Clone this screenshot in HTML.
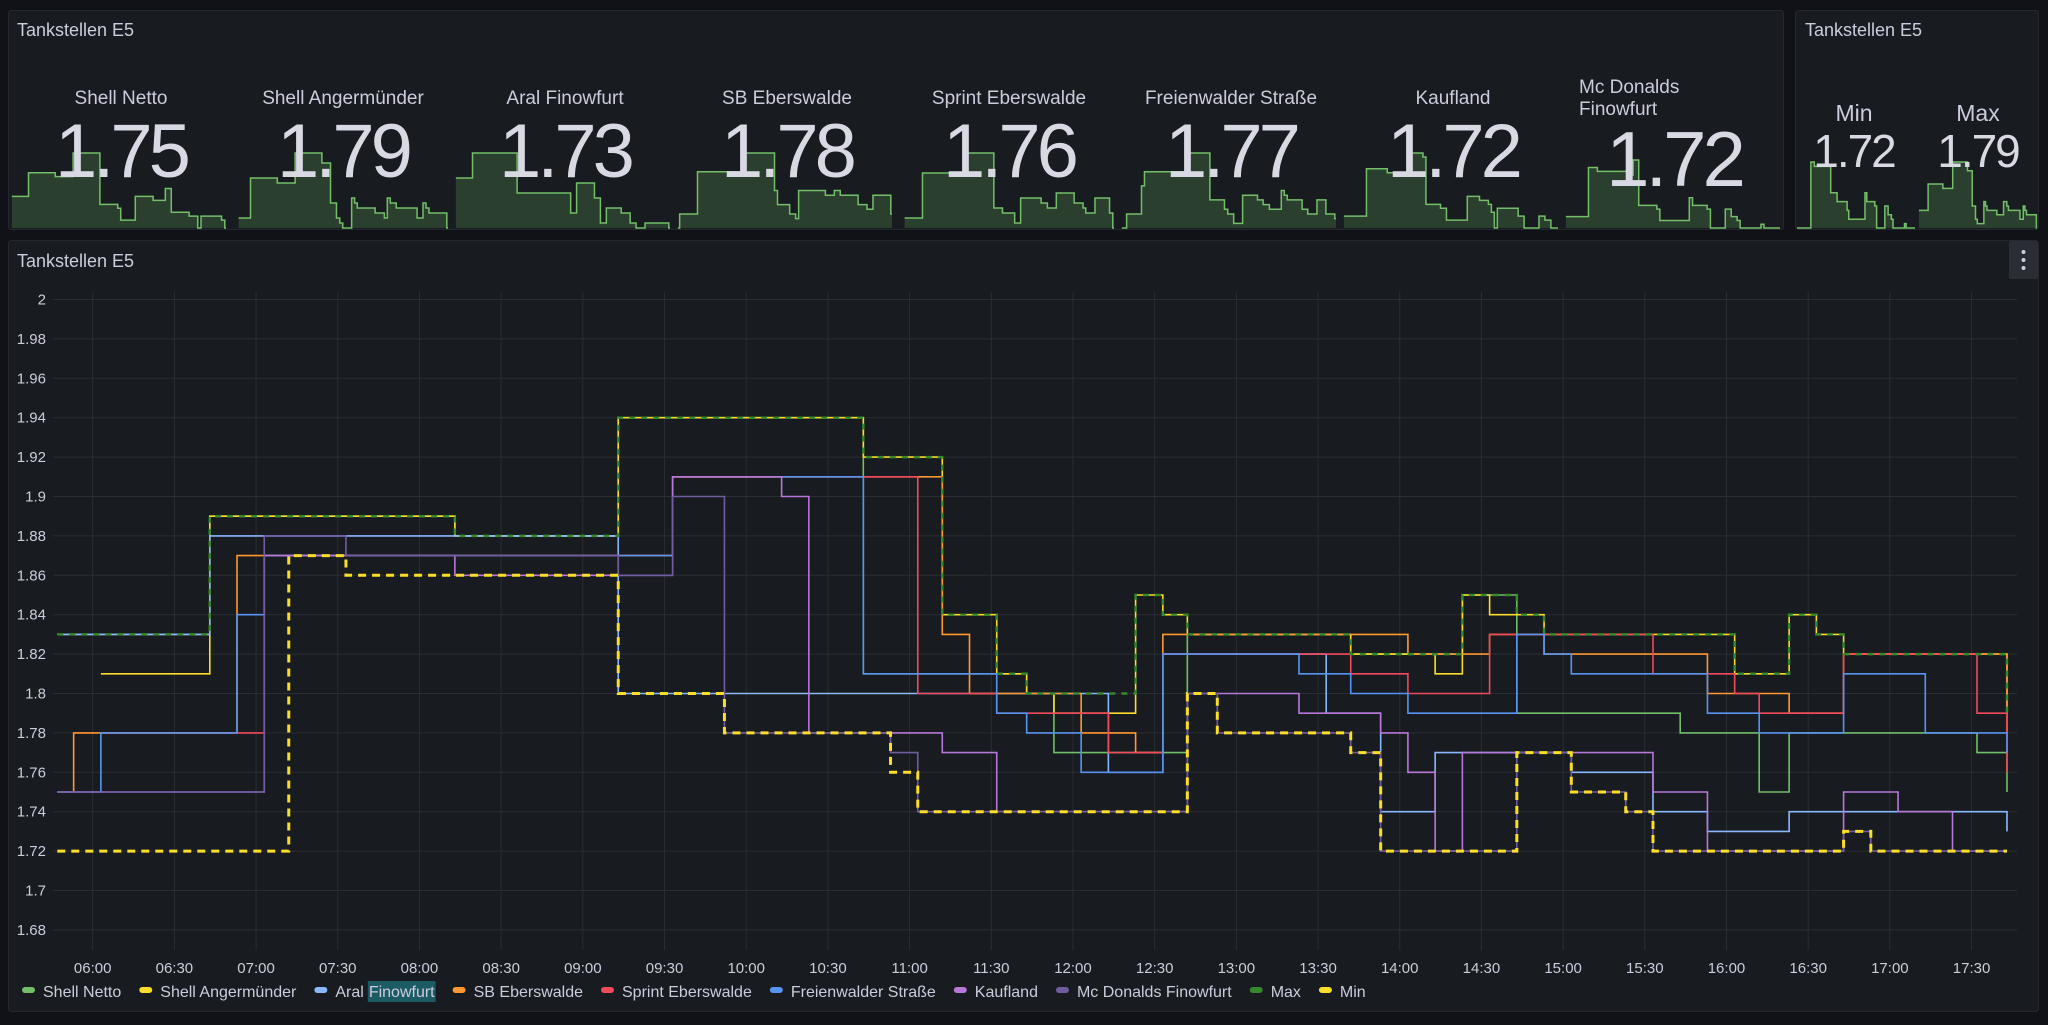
<!DOCTYPE html>
<html><head><meta charset="utf-8"><style>
body{margin:0;width:2048px;height:1025px;background:#111217;overflow:hidden;font-family:"Liberation Sans",sans-serif;}
svg{position:absolute;left:0;top:0}
</style></head><body>
<svg id="s" width="2048" height="1025" xmlns="http://www.w3.org/2000/svg"></svg>
<script>
const netto=[["05:47",1.83],["06:43",1.89],["08:13",1.88],["09:13",1.94],["10:43",1.81],["11:43",1.80],["11:53",1.77],["12:42",1.83],["13:42",1.82],["14:23",1.85],["14:43",1.79],["15:43",1.78],["16:12",1.75],["16:23",1.78],["17:32",1.77],["17:43",1.75]];
const anger=[["06:03",1.81],["06:43",1.89],["08:13",1.88],["09:13",1.94],["10:43",1.92],["11:12",1.84],["11:32",1.81],["11:43",1.80],["11:53",1.79],["12:23",1.85],["12:33",1.84],["12:42",1.83],["13:42",1.82],["14:13",1.81],["14:23",1.85],["14:33",1.84],["14:53",1.83],["16:03",1.81],["16:23",1.84],["16:33",1.83],["16:43",1.82],["17:43",1.79]];
const aral=[["05:47",1.83],["06:43",1.88],["09:13",1.80],["12:13",1.76],["12:33",1.82],["13:33",1.79],["13:53",1.74],["14:13",1.77],["15:03",1.76],["15:33",1.74],["15:53",1.73],["16:23",1.74],["17:43",1.73]];
const sb=[["05:47",1.75],["05:53",1.78],["06:53",1.87],["09:33",1.91],["11:12",1.83],["11:22",1.80],["12:03",1.78],["12:23",1.77],["12:33",1.83],["14:03",1.82],["14:33",1.83],["14:53",1.82],["15:53",1.80],["16:23",1.79],["16:43",1.82],["17:43",1.78]];
const sprint=[["06:03",1.78],["07:03",1.87],["09:33",1.91],["11:03",1.80],["11:32",1.79],["12:13",1.77],["12:33",1.82],["13:42",1.81],["14:03",1.80],["14:33",1.83],["15:33",1.81],["16:03",1.80],["16:12",1.79],["16:43",1.82],["17:32",1.79],["17:43",1.76]];
const frei=[["05:47",1.75],["06:03",1.78],["06:53",1.84],["07:03",1.87],["09:33",1.91],["10:43",1.81],["11:32",1.79],["11:43",1.78],["12:03",1.76],["12:33",1.82],["13:23",1.81],["13:42",1.80],["14:03",1.79],["14:43",1.83],["14:53",1.82],["15:03",1.81],["15:53",1.79],["16:12",1.78],["16:43",1.81],["17:13",1.78],["17:43",1.77]];
const kauf=[["05:47",1.75],["07:03",1.87],["08:13",1.86],["09:33",1.91],["10:13",1.90],["10:23",1.78],["11:12",1.77],["11:32",1.74],["12:42",1.80],["13:23",1.79],["13:53",1.78],["14:03",1.76],["14:13",1.72],["14:23",1.77],["15:33",1.75],["15:53",1.72],["16:43",1.75],["17:03",1.74],["17:23",1.72]];
const mcd=[["05:47",1.75],["07:03",1.88],["07:33",1.87],["09:13",1.86],["09:33",1.90],["09:52",1.78],["10:53",1.77],["11:03",1.74],["12:42",1.80],["12:53",1.78],["13:42",1.77],["13:53",1.72],["14:43",1.77],["15:03",1.75],["15:23",1.74],["15:33",1.72],["16:43",1.73],["16:53",1.72]];
const maxS=[["05:47",1.83],["06:43",1.89],["08:13",1.88],["09:13",1.94],["10:43",1.92],["11:12",1.84],["11:32",1.81],["11:43",1.80],["12:23",1.85],["12:33",1.84],["12:42",1.83],["13:42",1.82],["14:23",1.85],["14:43",1.84],["14:53",1.83],["16:03",1.81],["16:23",1.84],["16:33",1.83],["16:43",1.82],["17:43",1.79]];
const minS=[["05:47",1.72],["07:12",1.87],["07:33",1.86],["09:13",1.80],["09:52",1.78],["10:53",1.76],["11:03",1.74],["12:42",1.80],["12:53",1.78],["13:42",1.77],["13:53",1.72],["14:43",1.77],["15:03",1.75],["15:23",1.74],["15:33",1.72],["16:43",1.73],["16:53",1.72]];
const yTicks=[2,1.98,1.96,1.94,1.92,1.9,1.88,1.86,1.84,1.82,1.8,1.78,1.76,1.74,1.72,1.7,1.68];
const xTicks=["06:00","06:30","07:00","07:30","08:00","08:30","09:00","09:30","10:00","10:30","11:00","11:30","12:00","12:30","13:00","13:30","14:00","14:30","15:00","15:30","16:00","16:30","17:00","17:30"];
const names=["Shell Netto","Shell Angermünder","Aral Finowfurt","SB Eberswalde","Sprint Eberswalde","Freienwalder Straße","Kaufland","Mc Donalds Finowfurt","Max","Min"];
const colors=["#73BF69","#FADE2A","#8AB8FF","#FF9830","#F2495C","#5794F2","#B877D9","#705DA0","#37872D","#FADE2A"];
const series=[netto,anger,aral,sb,sprint,frei,kauf,mcd,maxS,minS];

const NS="http://www.w3.org/2000/svg";const S=document.getElementById('s');
function el(t,a,p){const e=document.createElementNS(NS,t);for(const k in a)e.setAttribute(k,a[k]);(p||S).appendChild(e);return e;}
const toM=s=>{const[h,m]=s.split(':');return +h*60+ +m;};
const T0=347.5,T1=1067;
const X=m=>92.7+(m-360)*2.723;
const Y=v=>299.5+(2-v)/0.02*39.4;
const lastV=s=>s[s.length-1][1];

let p=el('rect',{x:8.5,y:10.5,width:1775,height:219,rx:3,fill:'#181b1f',stroke:'#25282e'});

p=el('rect',{x:1795.5,y:10.5,width:243,height:219,rx:3,fill:'#181b1f',stroke:'#25282e'});

p=el('rect',{x:8.5,y:240.5,width:2030,height:771,rx:3,fill:'#181b1f',stroke:'#25282e'});

function title(x,y,t,n){const e=el('text',{x:x,y:y,fill:'#ccccdc','font-size':18});e.textContent=t;}
title(17,36,"Tankstellen E5",'stat-panel-title');title(1805,36,"Tankstellen E5",'minmax-panel-title');title(17,267,"Tankstellen E5",'chart-title');
let mb=el('rect',{x:2009,y:241,width:29,height:38,rx:2,fill:'#2a2d33'});

for(let i=0;i<3;i++){const c=el('circle',{cx:2023.5,cy:252+i*8,r:2,fill:'#ccccdc'});}

function spark(s,x0,x1,yb,h,idx){
  const vs=s.map(d=>d[1]);const lo=Math.min(...vs),hi=Math.max(...vs);
  const sx=m=>x0+(m-T0)/(T1-T0)*(x1-x0);const sy=v=>yb-((v-lo)/(hi-lo||1))*h;
  let d='';s.forEach((q,i)=>{const xx=sx(toM(q[0])),yy=sy(q[1]);d+=(i?`H${xx}V${yy}`:`M${xx} ${yy}`);});
  d+=`H${x1}`;
  const a=el('path',{d:d+`V${yb}H${sx(toM(s[0][0]))}Z`,fill:'rgba(115,191,105,0.22)'});
  
  const l=el('path',{d:d,fill:'none',stroke:'#73BF69','stroke-width':1.5});
  
}
const fmt=v=>v.toFixed(2);
for(let i=0;i<8;i++){
  const bx=10+i*222,cx=bx+111;
  spark(series[i],bx+2,bx+216,228,[75,75,75,75,75,75,75,68][i],i);
  if(i<7){const t=el('text',{x:cx,y:104,fill:'#ccccdc','font-size':19,'text-anchor':'middle'});t.textContent=names[i];
    const v=el('text',{x:cx,y:177,fill:'#d8d9e3','font-size':76,'letter-spacing':-4,'text-anchor':'middle'});v.textContent=fmt(lastV(series[i]));}
  else{const t=el('text',{x:1579,y:93,fill:'#ccccdc','font-size':19});t.textContent="Mc Donalds";
    const t2=el('text',{x:1579,y:115,fill:'#ccccdc','font-size':19});t2.textContent="Finowfurt";
    const v=el('text',{x:1674,y:186,fill:'#d8d9e3','font-size':78,'letter-spacing':-4,'text-anchor':'middle'});v.textContent=fmt(lastV(series[i]));}
}
[[9,"Min",1797,1915,1854],[8,"Max",1919,2037,1978]].forEach(([i,n,x0,x1,cx])=>{
  spark(series[i],x0,x1,228,66,i);
  const t=el('text',{x:cx,y:121,fill:'#ccccdc','font-size':23,'text-anchor':'middle'});t.textContent=n;
  const v=el('text',{x:cx,y:167,fill:'#d8d9e3','font-size':46,'letter-spacing':-2,'text-anchor':'middle'});v.textContent=fmt(lastV(series[i]));
});

const PL=53,PR=2017;
yTicks.forEach(v=>{const g=el('line',{x1:PL,x2:PR,y1:Y(v),y2:Y(v),stroke:'#2a2d33'});
  const t=el('text',{x:46,y:Y(v)+5,fill:'#ccccdc','font-size':15,'text-anchor':'end'});t.textContent=String(v);});
xTicks.forEach(s=>{const x=X(toM(s));const g=el('line',{x1:x,x2:x,y1:292,y2:950,stroke:'#2a2d33'});
  const t=el('text',{x:x,y:973,fill:'#ccccdc','font-size':15,'text-anchor':'middle'});t.textContent=s;});

series.forEach((s,i)=>{
  let d='';s.forEach((q,j)=>{const xx=X(toM(q[0])),yy=Y(q[1]);d+=(j?`H${xx}V${yy}`:`M${xx} ${yy}`);});d+=`H${X(T1-4)}`;
  const a={d:d,fill:'none',stroke:colors[i],'stroke-width':1.6};
  if(i===8){a['stroke-dasharray']='6 6';a['stroke-width']=2.5;}
  if(i===9){a['stroke-dasharray']='8 6';a['stroke-width']=3;}
  const l=el('path',a);
});

let lx=22;
names.forEach((n,i)=>{
  const g=el('g',{});
  el('rect',{x:lx,y:987,width:13,height:6,rx:3,fill:colors[i]},g);
  if(i===2){const t=el('text',{x:lx+21,y:997,fill:'#ccccdc','font-size':16},g);t.textContent="Aral";
    const w=t.getComputedTextLength();
    const t2=el('text',{x:lx+21+w+5,y:997,fill:'#ccccdc','font-size':16},g);t2.textContent="Finowfurt";
    const w2=t2.getComputedTextLength();
    const hb=el('rect',{x:lx+21+w+4,y:981,width:w2+2,height:21,fill:'#1c5b63'});g.insertBefore(hb,t2);
    lx+=21+w+5+w2+18;}
  else{const t=el('text',{x:lx+21,y:997,fill:'#ccccdc','font-size':16},g);t.textContent=n;lx+=21+t.getComputedTextLength()+18;}
});
</script></body></html>
